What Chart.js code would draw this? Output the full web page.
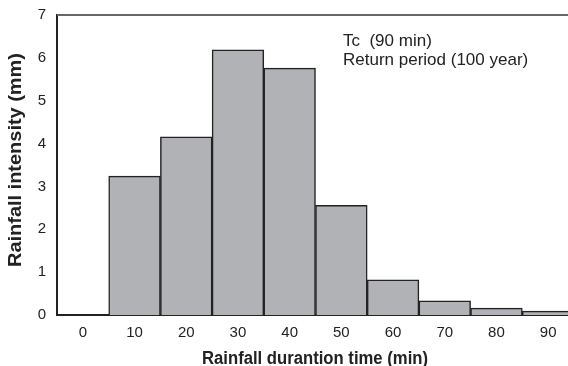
<!DOCTYPE html>
<html>
<head>
<meta charset="utf-8">
<script src="https://cdn.jsdelivr.net/npm/chart.js@4.4.1/dist/chart.umd.min.js"></script>
<style>
  html, body { margin: 0; padding: 0; background: #fff; overflow: hidden; }
  #wrap { width: 580px; height: 366px; position: relative; }
</style>
</head>
<body>
<div id="wrap"><canvas id="chart"></canvas></div>
<script>
// Dados
const categorias = ["0", "10", "20", "30", "40", "50", "60", "70", "80", "90"]
const intensidade = [0, 3.24, 4.16, 6.19, 5.76, 2.56, 0.82, 0.33, 0.16, 0.09]
const notas = ["Tc  (90 min)", "Return period (100 year)"]
const tituloX = "Rainfall durantion time (min)"
const tituloY = "Rainfall intensity (mm)"

const fonte = "'Liberation Sans', Arial, sans-serif"

// Texto esticado até um comprimento dado (a figura original está deformada)
const textoEsticado = (ctx, texto, comprimento) => {
  const w = ctx.measureText(texto).width
  ctx.save()
  ctx.scale(comprimento / w, 1)
  ctx.fillText(texto, 0, 0)
  ctx.restore()
}

// Linha superior, anotação e títulos dos eixos
const extras = {
  id: "extras",
  afterDraw(chart) {
    const { ctx, chartArea } = chart
    ctx.save()
    ctx.strokeStyle = "#666"
    ctx.lineWidth = 2
    ctx.beginPath()
    ctx.moveTo(chartArea.left, chartArea.top)
    ctx.lineTo(chartArea.right, chartArea.top)
    ctx.stroke()

    ctx.fillStyle = "#222"
    ctx.font = "17px " + fonte
    ctx.textBaseline = "alphabetic"
    ctx.textAlign = "left"
    notas.forEach((t, i) => ctx.fillText(t, 343, 46 + i * 18.5))

    ctx.font = "bold 18px " + fonte
    ctx.textAlign = "left"
    // título X
    ctx.save()
    ctx.translate(315 - 113, 364)
    textoEsticado(ctx, tituloX, 226)
    ctx.restore()
    // título Y
    ctx.save()
    ctx.translate(20.7, 160 + 107)
    ctx.rotate(-Math.PI / 2)
    textoEsticado(ctx, tituloY, 214)
    ctx.restore()
    ctx.restore()
  },
}

new Chart(document.getElementById("chart"), {
  type: "bar",
  data: {
    labels: categorias,
    datasets: [
      {
        data: intensidade,
        backgroundColor: "#b1b2b5",
        borderColor: "#222",
        borderWidth: 1.5,
        categoryPercentage: 1,
        barPercentage: 1,
      },
    ],
  },
  options: {
    responsive: true,
    maintainAspectRatio: false,
    animation: false,
    layout: { padding: { top: 15, right: 6, left: 0, bottom: 0 } },
    plugins: {
      legend: { display: false },
      tooltip: { enabled: false },
    },
    scales: {
      x: {
        grid: { display: false, drawTicks: false },
        border: { display: true, color: "#222", width: 2 },
        ticks: { color: "#222", font: { family: fonte, size: 15 }, padding: 9 },
        afterFit: (s) => {
          s.height = 51
          s.paddingLeft = 0
          s.paddingRight = 0
        },
      },
      y: {
        min: 0,
        max: 7,
        grid: { display: false, drawTicks: false },
        border: { display: true, color: "#222", width: 2 },
        ticks: { stepSize: 1, color: "#222", font: { family: fonte, size: 15 }, padding: 11 },
        afterFit: (s) => {
          s.width = 57
          s.paddingTop = 0
          s.paddingBottom = 0
        },
      },
    },
  },
  plugins: [extras],
})
</script>
</body>
</html>
